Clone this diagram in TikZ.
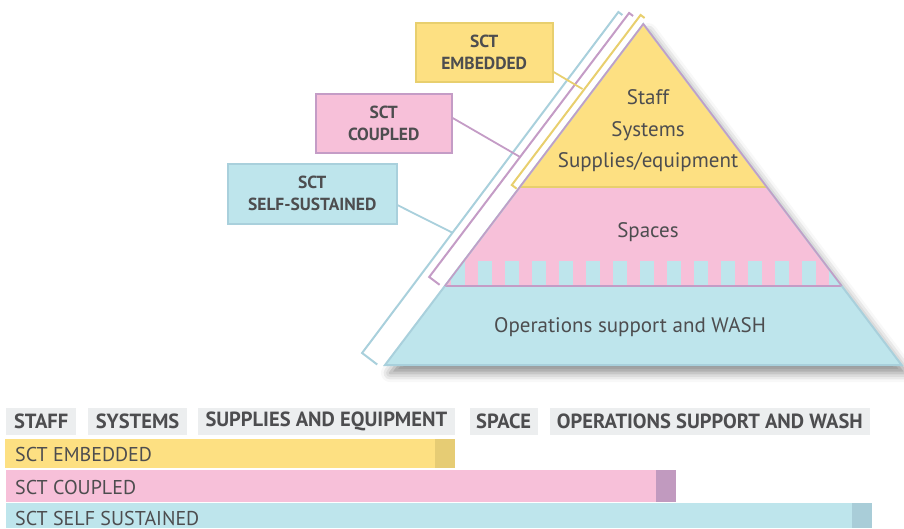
\documentclass[tikz,border=0pt]{standalone}
\usepackage{fontspec}
\setmainfont{PT Sans}
\usetikzlibrary{shadows.blur}

\definecolor{ylw}{HTML}{FDE082}
\definecolor{ylwdark}{HTML}{E8CF6E}
\definecolor{ylwbar}{HTML}{E6CC74}
\definecolor{pnk}{HTML}{F7C0D9}
\definecolor{prp}{HTML}{C49CC6}
\definecolor{prpbar}{HTML}{C19ABF}
\definecolor{blu}{HTML}{BEE5EC}
\definecolor{bludark}{HTML}{A9D0DC}
\definecolor{blubar}{HTML}{A9CDD8}
\definecolor{ink}{HTML}{4D4D4F}
\definecolor{hdrgrey}{HTML}{ECEEEF}

\tikzset{
  callout/.style={rectangle, line width=2pt, text=ink, font=\bfseries\fontsize{17.5}{22}\selectfont, align=center, inner sep=0pt},
  layertext/.style={text=ink, font=\fontsize{21}{31.5}\selectfont, align=center, inner sep=0pt},
  hdr/.style={rectangle, fill=hdrgrey, text=ink, font=\bfseries\fontsize{20.5}{20.5}\selectfont, minimum height=26.4pt, inner sep=0pt, anchor=west},
  bartext/.style={text=ink, font=\fontsize{20}{20}\selectfont, inner sep=0pt, text depth=0pt, anchor=base west},
  bracket/.style={line width=2pt, line join=miter},
  leader/.style={line width=1.8pt}
}

\begin{document}
\begin{tikzpicture}[x=1pt,y=-1pt]
\useasboundingbox (0,0) rectangle (904,528);

% pyramid corners
\coordinate (apex) at (643.3,24);
\coordinate (bl) at (385,365);
\coordinate (br) at (901.6,365);

% soft shadow behind the pyramid
\path[fill=white, blur shadow={shadow xshift=5pt, shadow yshift=-8pt, shadow blur radius=9pt, shadow opacity=45}]
  (apex) -- (bl) -- (br) -- cycle;

% layers
\begin{scope}
  \clip (apex) -- (bl) -- (br) -- cycle;
  \fill[ylw] (380,0) rectangle (905,187);
  \fill[pnk] (380,187) rectangle (905,286);
  \fill[blu] (380,286) rectangle (905,366);
  \foreach \x in {451,478,...,829}
    \fill[blu] (\x,261) rectangle ++(13.5,25);
\end{scope}

% layer borders
\draw[ylwdark, line width=1.5pt] (519.8,187) -- (766.8,187);
\draw[prp, line width=2pt] (444.8,286) -- (841.8,286);
\draw[bludark, line width=2pt, line join=miter] (apex) -- (bl) -- (br) -- cycle;
\draw[prp, line width=1.5pt, line join=miter] (444.8,286) -- (apex) -- (841.8,286);

% layer labels
\node[layertext] (ltop) at (648,131) {Staff\\Systems\\Supplies/equipment};
\node[layertext] (lspaces) at (648,232) {Spaces};
\node[layertext] (lops) at (630,327) {Operations support and WASH};

% brackets along the left side
\coordinate (yb1) at (644.6,18);
\coordinate (yb2) at (640.6,15);
\coordinate (yb3) at (511.8,185);
\coordinate (yb4) at (516.6,188.6);
\draw[bracket, ylwdark] (yb1) -- (yb2) -- (yb3) -- (yb4);

\coordinate (pb1) at (633.1,16);
\coordinate (pb2) at (629.1,13);
\coordinate (pb3) at (429.2,277);
\coordinate (pb4) at (439.6,284.8);
\draw[bracket, prp] (pb1) -- (pb2) -- (pb3) -- (pb4);

\coordinate (bb1) at (622.4,15);
\coordinate (bb2) at (618.4,12);
\coordinate (bb3) at (362.1,353);
\coordinate (bb4) at (377.2,364.5);
\draw[bracket, bludark] (bb1) -- (bb2) -- (bb3) -- (bb4);

% callouts
\node[callout, fill=ylw, draw=ylwdark, minimum width=137pt, minimum height=59pt] (emb) at (484.2,52) {SCT\\EMBEDDED};
\node[callout, fill=pnk, draw=prp, minimum width=136pt, minimum height=59pt] (cpl) at (383.7,123) {SCT\\COUPLED};
\node[callout, fill=blu, draw=bludark, minimum width=169pt, minimum height=60pt] (self) at (312.2,193.7) {SCT\\SELF-SUSTAINED};

\coordinate (ytouch) at (582.5,89);
\coordinate (ptouch) at (520.1,157);
\coordinate (btouch) at (453,233);
\draw[leader, ylwdark] ([yshift=-20pt]emb.east) -- (ytouch);
\draw[leader, prp] ([yshift=5pt]cpl.east) -- (ptouch);
\draw[leader, bludark] ([yshift=-11.5pt]self.east) -- (btouch);

% legend header
\node[hdr, minimum width=70pt] (hstaff) at (6,421.5) {STAFF};
\node[hdr, minimum width=98.7pt] (hsys) at (88,421.5) {SYSTEMS};
\node[hdr, minimum width=257.7pt] (hsup) at (197.3,421.5) {SUPPLIES AND EQUIPMENT};
\node[hdr, minimum width=68.4pt] (hspace) at (469.3,421.5) {SPACE};
\node[hdr, minimum width=320.7pt] (hops) at (549.3,421.5) {OPERATIONS SUPPORT AND WASH};

% legend bars
\fill[ylw] (5,439.3) rectangle (435,467.7);
\fill[ylwbar] (435,439.3) rectangle (455,467.7);
\fill[pnk] (6,470) rectangle (656,501.7);
\fill[prpbar] (656,470) rectangle (676,501.7);
\fill[blu] (6,503.3) rectangle (852,528);
\fill[blubar] (852,503.3) rectangle (872,528);
\node[bartext] (tEmb) at (15,461.8) {SCT EMBEDDED};
\node[bartext] (tCpl) at (15,494.2) {SCT COUPLED};
\node[bartext] (tSelf) at (15,525.3) {SCT SELF SUSTAINED};
\end{tikzpicture}
\end{document}
